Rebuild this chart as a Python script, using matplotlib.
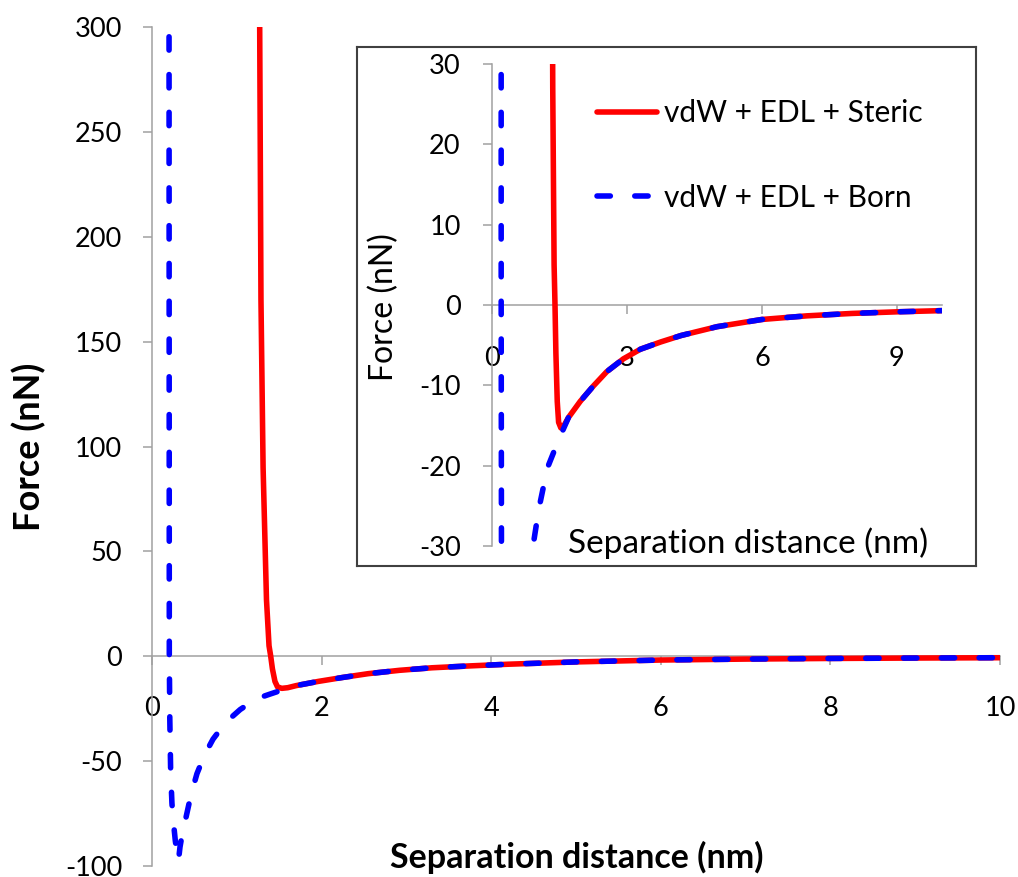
import matplotlib
matplotlib.use("Agg")
import matplotlib.pyplot as plt
from matplotlib.lines import Line2D

plt.rcParams['font.family'] = ['Lato', 'DejaVu Sans']
plt.rcParams['axes.unicode_minus'] = False

# Separation distance (nm) and total force (nN) for the two interaction models
born_x = [0.200, 0.202, 0.204, 0.210, 0.220, 0.235, 0.250, 0.275, 0.300, 0.312,
          0.330, 0.360, 0.400, 0.460, 0.530, 0.620, 0.720, 0.870, 1.040, 1.230,
          1.380, 1.550, 1.700, 1.960, 2.250, 2.550, 2.920, 3.300, 3.750, 4.200,
          5.000, 6.000, 7.000, 8.000, 9.000, 10.000]
born_f = [400.0, 200.0, 0.0, -30.0, -55.0, -70.0, -78.0, -88.0, -95.0, -97.5,
          -91.0, -84.0, -77.0, -66.0, -56.0, -47.0, -39.5, -31.5, -25.4, -20.3,
          -18.2, -15.9, -14.0, -12.0, -10.1, -8.3, -6.7, -5.5, -4.6, -3.8,
          -2.7, -1.8, -1.35, -1.05, -0.85, -0.7]

steric_x = [1.260, 1.270, 1.285, 1.310, 1.350, 1.380, 1.400, 1.420, 1.450, 1.480,
            1.530, 1.600, 1.700, 1.960, 2.250, 2.550, 2.920, 3.300, 3.750, 4.200,
            5.000, 6.000, 7.000, 8.000, 9.000, 10.000]
steric_f = [400.0, 300.0, 170.0, 90.0, 27.0, 5.0, 0.0, -6.0, -12.0, -14.6,
            -15.3, -15.0, -14.0, -12.0, -10.1, -8.3, -6.7, -5.5, -4.6, -3.8,
            -2.7, -1.8, -1.35, -1.05, -0.85, -0.7]

series_labels = ["vdW + EDL + Steric", "vdW + EDL + Born"]

main_xticks = [0, 2, 4, 6, 8, 10]
main_yticks = [-100, -50, 0, 50, 100, 150, 200, 250, 300]
inset_xticks = [0, 3, 6, 9]
inset_yticks = [-30, -20, -10, 0, 10, 20, 30]

RED = "#ff0000"
BLUE = "#0000ff"
AXIS = "#a0a0a0"
LW = 4.0
DASH = (0, (2.4, 4.4))
TICK_FS = 19.5

W, H = 1018, 877
fig = plt.figure(figsize=(W / 100, H / 100), dpi=100)


def px_box(x0, y0, x1, y1):
    return [x0 / W, 1 - y1 / H, (x1 - x0) / W, (y1 - y0) / H]


def style_axes(a, xpad, ypad):
    for s in ("top", "right"):
        a.spines[s].set_visible(False)
    for s in ("left", "bottom"):
        a.spines[s].set_color(AXIS)
        a.spines[s].set_linewidth(1.1)
    a.spines["left"].set_position(("data", 0))
    a.spines["bottom"].set_position(("data", 0))
    a.tick_params(axis="both", direction="out", length=6.5, width=1.1,
                  color=AXIS, labelsize=TICK_FS, labelcolor="black")
    a.tick_params(axis="x", pad=xpad)
    a.tick_params(axis="y", pad=ypad)
    a.patch.set_visible(False)


def draw_curves(a):
    a.plot(steric_x, steric_f, color=RED, lw=LW, solid_capstyle="butt",
           solid_joinstyle="round", zorder=3)
    a.plot(born_x, born_f, color=BLUE, lw=LW, linestyle=DASH,
           dash_capstyle="round", dash_joinstyle="round", zorder=4)


# Main chart
ax = fig.add_axes(px_box(152, 27, 1000, 866))
ax.set_xlim(0, 10)
ax.set_ylim(-100, 300)
ax.set_xticks(main_xticks)
ax.set_yticks(main_yticks)
style_axes(ax, xpad=22, ypad=15)
draw_curves(ax)

fig.text(577 / W, 1 - 857 / H, "Separation distance (nm)", ha="center",
         va="center", fontsize=24.5, fontweight="bold")
fig.text(29 / W, 1 - 447 / H, "Force (nN)", ha="center", va="center",
         rotation=90, fontsize=26, fontweight="bold")

# Inset frame
box = fig.add_axes(px_box(357, 47, 976, 566))
box.set_xticks([])
box.set_yticks([])
box.set_facecolor("white")
for s in box.spines.values():
    s.set_color("#404040")
    s.set_linewidth(1.5)

# Inset chart (zoom around the force minimum)
ins = fig.add_axes(px_box(492, 64, 942, 546))
ins.set_xlim(0, 10)
ins.set_ylim(-30, 30)
ins.set_xticks(inset_xticks)
ins.set_yticks(inset_yticks)
style_axes(ins, xpad=23, ypad=16)
draw_curves(ins)

fig.text(748 / W, 1 - 543 / H, "Separation distance (nm)", ha="center",
         va="center", fontsize=24)
fig.text(384 / W, 1 - 307 / H, "Force (nN)", ha="center", va="center",
         rotation=90, fontsize=23)

handles = [
    Line2D([], [], color=RED, lw=LW, solid_capstyle="round"),
    Line2D([], [], color=BLUE, lw=LW, linestyle=DASH, dash_capstyle="round"),
]
ins.legend(handles, series_labels, loc="upper left",
           bbox_to_anchor=(597 / W, 1 - 99 / H), bbox_transform=fig.transFigure,
           frameon=False, fontsize=21.5, handlelength=2.0,
           handletextpad=0.23, labelspacing=1.9, borderpad=0,
           borderaxespad=0)

fig.savefig("out.png", dpi=100)
